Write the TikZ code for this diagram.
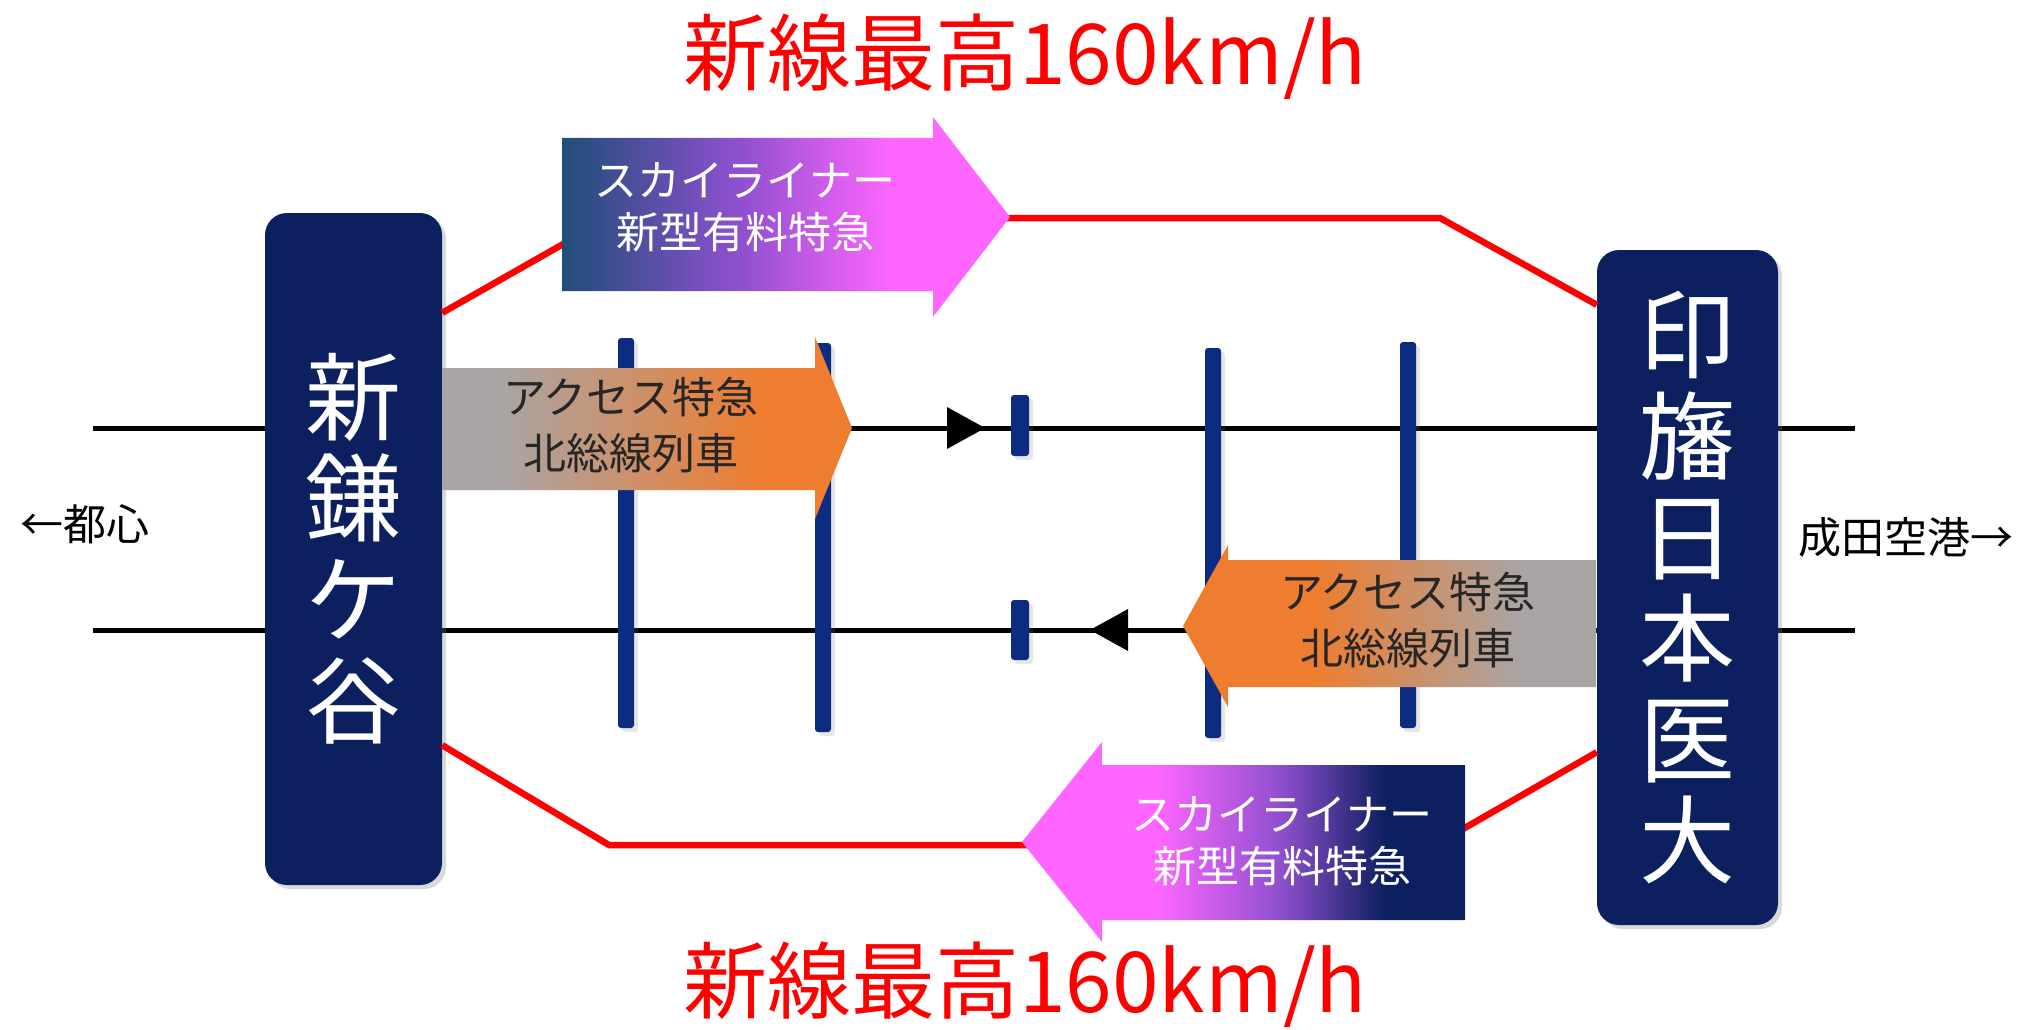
\documentclass[tikz,border=0pt]{standalone}
\usepackage{fontspec}
\setmainfont{Noto Sans CJK JP}
\usetikzlibrary{shadows}

\definecolor{stationblue}{HTML}{0C1F5F}
\definecolor{barblue}{HTML}{0B2C80}
\definecolor{skysteel}{HTML}{1F4E79}
\definecolor{skypurple}{HTML}{9050D0}
\definecolor{skypink}{HTML}{FF66FF}
\definecolor{accessgrey}{HTML}{A9A5A5}
\definecolor{accessorange}{HTML}{EE7D30}

% Gradients for the train arrows (left to right).
\pgfdeclarehorizontalshading{skylinerout}{100bp}{color(0bp)=(skysteel); color(25bp)=(skysteel); color(45bp)=(skypurple); color(62bp)=(skypink); color(100bp)=(skypink)}
\pgfdeclarehorizontalshading{skylinerin}{100bp}{color(0bp)=(skypink); color(40bp)=(skypink); color(54bp)=(skypurple); color(66bp)=(stationblue); color(100bp)=(stationblue)}
\pgfdeclarehorizontalshading{accessout}{100bp}{color(0bp)=(accessgrey); color(32bp)=(accessgrey); color(64bp)=(accessorange); color(100bp)=(accessorange)}
\pgfdeclarehorizontalshading{accessin}{100bp}{color(0bp)=(accessorange); color(41bp)=(accessorange); color(66bp)=(accessgrey); color(100bp)=(accessgrey)}

\begin{document}
\begin{tikzpicture}[%
        x = 1pt,
        y = -1pt,
        station/.style = {fill = stationblue, rounded corners = 22pt, text = white, align = center,
            font = \fontsize{96}{101}\selectfont,
            drop shadow = {shadow xshift = 4pt, shadow yshift = -4pt, opacity = 0.3}},
        platform/.style = {fill = barblue, rounded corners = 3pt,
            drop shadow = {shadow xshift = 4pt, shadow yshift = -4pt, opacity = 0.2}},
        rail/.style = {line width = 5pt, black},
        red_line/.style = {line width = 6.5pt, red},
        sky_label/.style = {text = white, align = center, font = \fontsize{43}{52}\selectfont},
        access_label/.style = {text = black!85, align = center, font = \fontsize{43}{56}\selectfont},
        town_label/.style = {text = black, font = \fontsize{43}{50}\selectfont},
        speed_title/.style = {text = red, font = \fontsize{84}{90}\selectfont}
    ]
        \useasboundingbox (0, 0) rectangle (2023, 1030);

        % Free ends of the two running lines.
        \coordinate (Up_West) at (93, 428);
        \coordinate (Up_East) at (1855, 428);
        \coordinate (Down_West) at (93, 630);
        \coordinate (Down_East) at (1855, 630);

        % Bends of the new high speed line.
        \coordinate (Upper_Left_Bend) at (609, 218);
        \coordinate (Upper_Right_Bend) at (1440, 218);
        \coordinate (Lower_Left_Bend) at (609, 845);
        \coordinate (Lower_Right_Bend) at (1435, 845);

        % The two running lines.
        \draw[rail] (Up_West) -- (Up_East);
        \draw[rail] (Down_West) -- (Down_East);

        % Direction marks on the running lines.
        \fill (947, 407) -- (985, 428) -- (947, 449) -- cycle;
        \fill (1128, 609) -- (1090, 630) -- (1128, 651) -- cycle;

        % Platforms crossing the lines.
        \foreach \x/\top/\bottom/\half in {626/338/728/8, 823/343/732/8, 1020/395/456/9,
                1020/600/660/9, 1213/348/738/8, 1408/342/728/8}
            \fill[platform] (\x - \half, \top) rectangle (\x + \half, \bottom);

        % Stations at both ends.
        \node[station, minimum width = 177pt, minimum height = 672pt] (Shin_Kamagaya)
            at (353.5, 549) {新\\鎌\\ケ\\谷};
        \node[station, minimum width = 181pt, minimum height = 675pt] (Imba_Nichi_Idai)
            at (1687.5, 587.5) {印\\旛\\日\\本\\医\\大};

        % New line, upper and lower tracks.
        \draw[red_line, line join = round] ([yshift = -100pt] Shin_Kamagaya.north east)
            -- (Upper_Left_Bend) -- (Upper_Right_Bend)
            -- ([yshift = -55pt] Imba_Nichi_Idai.north west);
        \draw[red_line, line join = round] ([yshift = 140pt] Shin_Kamagaya.south east)
            -- (Lower_Left_Bend) -- (Lower_Right_Bend)
            -- ([yshift = 173pt] Imba_Nichi_Idai.south west);

        % Skyliner arrows.
        \shade[shading = skylinerout] (562, 138) -- (933, 138) -- (933, 117) -- (1010, 217)
            -- (933, 317) -- (933, 291) -- (562, 291) -- cycle;
        \shade[shading = skylinerin] (1465, 765) -- (1102, 765) -- (1102, 742) -- (1022, 842)
            -- (1102, 942) -- (1102, 920) -- (1465, 920) -- cycle;

        % Access express arrows.
        \shade[shading = accessout] (442, 368) -- (815, 368) -- (815, 337) -- (852, 428)
            -- (815, 519) -- (815, 490) -- (442, 490) -- cycle;
        \shade[shading = accessin] (1596, 560) -- (1228, 560) -- (1228, 545) -- (1183, 626)
            -- (1228, 707) -- (1228, 687) -- (1596, 687) -- cycle;

        % Texts on the arrows.
        \node[sky_label] (Skyliner_Out) at (745, 207) {スカイライナー\\新型有料特急};
        \node[sky_label] (Skyliner_In) at (1282, 841) {スカイライナー\\新型有料特急};
        \node[access_label] (Access_Out) at (631, 425) {アクセス特急\\北総線列車};
        \node[access_label] (Access_In) at (1408, 620) {アクセス特急\\北総線列車};

        % Directions beyond the stations.
        \node[town_label] (Toshin) at (85, 524) {←都心};
        \node[town_label] (Narita_Airport) at (1906, 537) {成田空港→};

        % Top speed on the new line.
        \node[speed_title] (Top_Speed_Upper) at (1025, 57) {新線最高160km/h};
        \node[speed_title] (Top_Speed_Lower) at (1025, 985) {新線最高160km/h};
    \end{tikzpicture}
\end{document}
